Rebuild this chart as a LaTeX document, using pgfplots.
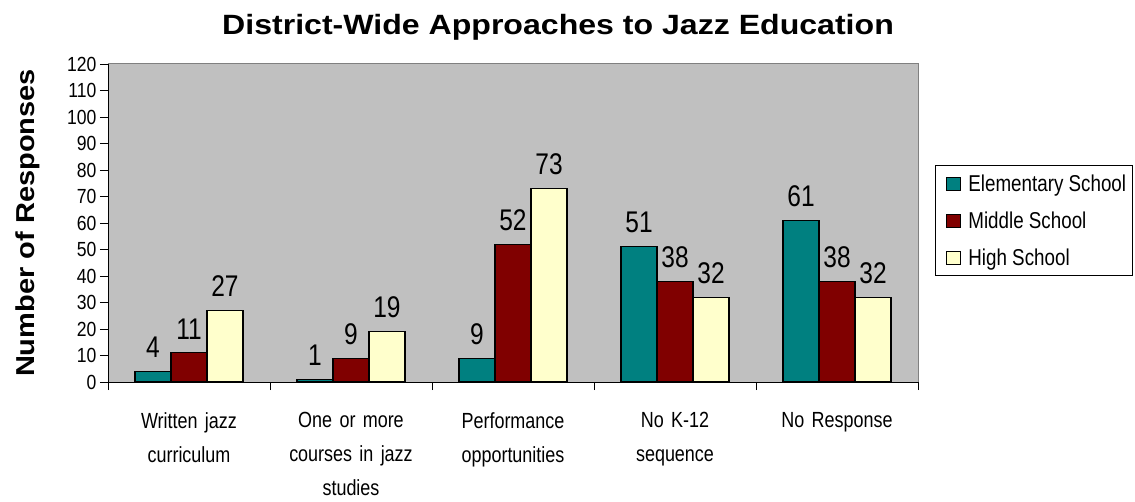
\documentclass[border=0pt]{standalone}
\usepackage{pgfplots}
\pgfplotsset{compat=1.18}
\usepackage{fontspec}
\setmainfont{Liberation Sans}
\newfontfamily\narrow[FakeStretch=0.82]{Liberation Sans}
\newfontfamily\narrowb[FakeStretch=0.86]{Liberation Sans}
\newfontfamily\narrowc[FakeStretch=0.82]{Liberation Sans}
\newfontfamily\widebold[FakeStretch=1.15]{Liberation Sans Bold}
\newfontfamily\wideboldy[FakeStretch=1.12]{Liberation Sans Bold}
\definecolor{bgc}{HTML}{C0C0C0}
\definecolor{teal1}{HTML}{008080}
\definecolor{red1}{HTML}{800000}
\definecolor{yel1}{HTML}{FFFFCC}
\begin{document}
\begin{tikzpicture}
\path (0,0) rectangle (1135bp,502bp);
\begin{axis}[
  at={(108bp,120bp)}, anchor=south west,
  scale only axis, width=810bp, height=318bp,
  xmin=-0.5, xmax=4.5, ymin=0, ymax=120,
  ytick={0,10,...,120},
  xtick={0,1,2,3,4},
  xticklabels={Written jazz\\curriculum, One or more\\courses in jazz\\studies, Performance\\opportunities, No K-12\\sequence, No Response},
  minor xtick={-0.5,0.5,1.5,2.5,3.5,4.5},
  major x tick style={draw=none},
  tick align=outside, major tick length=8bp, minor tick length=8bp,
  tick style={black, line width=0.8bp},
  axis x line*=bottom, axis y line*=left,
  axis line style={black, line width=1bp, -},
  axis background/.style={fill=bgc, draw=gray, line width=1bp},
  /pgf/number format/assume math mode=true,
  yticklabel style={font=\narrowb\fontsize{20.5}{24}\selectfont, xshift=0bp},
  xticklabel style={font=\narrow\fontsize{22}{34}\selectfont, align=center, text width=150bp, yshift=-19bp},
  ylabel={\wideboldy Number of Responses},
  ylabel style={font=\fontsize{26}{30}\selectfont, at={(axis description cs:-0.0988,0.5)}, anchor=center},
  title={\widebold District-Wide Approaches to Jazz Education},
  title style={font=\fontsize{28}{32}\selectfont, at={(axis description cs:0.5556,1.097)}, anchor=center},
  ybar=0pt, bar width=36bp,
  nodes near coords,
  nodes near coords style={font=\narrowc\fontsize{30}{34}\selectfont, anchor=south, inner sep=0pt, yshift=13bp, black},
  legend style={at={(axis description cs:1.021,0.682)}, anchor=north west, draw=black, fill=white, line width=0.8bp,
    font=\narrow\fontsize{23}{26}\selectfont, row sep=15bp, inner xsep=4bp, inner ysep=7bp},
  legend cell align=left,
  legend image code/.code={\path[draw=none,fill=none] (0bp,0bp) -- (27bp,0bp); \draw[#1, line width=1bp] (7bp,-6.5bp) rectangle (21bp,6.5bp);},
  enlarge x limits=false,
]
\addplot[fill=teal1, draw=black, line width=1.2bp] coordinates {(0,4) (1,1) (2,9) (3,51) (4,61)};
\addplot[fill=red1, draw=black, line width=1.2bp] coordinates {(0,11) (1,9) (2,52) (3,38) (4,38)};
\addplot[fill=yel1, draw=black, line width=1.2bp] coordinates {(0,27) (1,19) (2,73) (3,32) (4,32)};
\legend{Elementary School, Middle School, High School}
\end{axis}
\end{tikzpicture}
\end{document}
